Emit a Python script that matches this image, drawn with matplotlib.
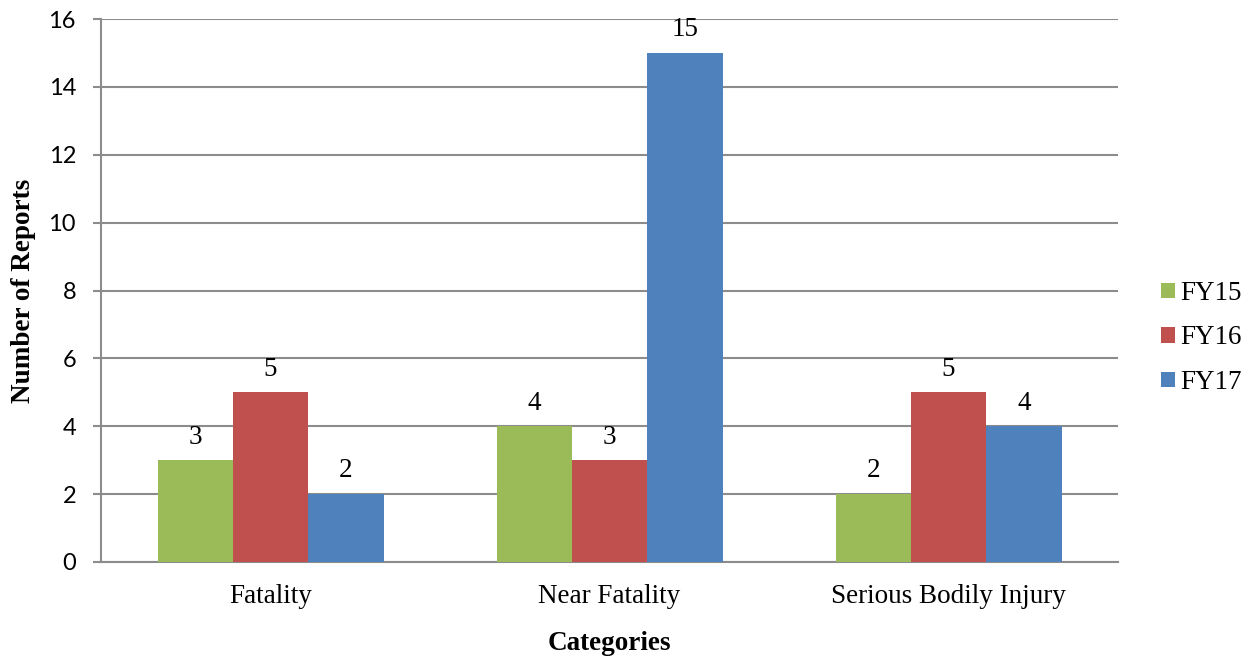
import matplotlib.pyplot as plt
import numpy as np

categories = ["Fatality", "Near Fatality", "Serious Bodily Injury"]
years = ["FY15", "FY16", "FY17"]
fy15 = [3, 4, 2]
fy16 = [5, 3, 5]
fy17 = [2, 15, 4]
y_ticks = [0, 2, 4, 6, 8, 10, 12, 14, 16]

colors = ["#9BBB59", "#C0504D", "#4F81BD"]
serif = "Liberation Serif"
grid_col = "#8C8C8C"
fs = 19.5

fig = plt.figure(figsize=(12.48, 6.56), dpi=100)
ax = fig.add_axes([101 / 1248, 1 - 562 / 656, 1017 / 1248, 543 / 656])

x = np.arange(len(categories))
w = 1 / 4.5
for i, (vals, name) in enumerate(zip([fy15, fy16, fy17], years)):
    pos = x + (i - 1) * w
    bars = ax.bar(pos, vals, width=w, color=colors[i], label=name, zorder=3)
    for b, v in zip(bars, vals):
        ax.annotate(str(v), (b.get_x() + b.get_width() / 2, v),
                    xytext=(0, 12), textcoords="offset points",
                    ha="center", va="baseline", fontsize=fs,
                    family=serif, color="black")

ax.set_xlim(-0.5, 2.5)
ax.set_ylim(0, 16)
ax.set_yticks(y_ticks)
ax.set_xticks(x)
ax.set_xticklabels(categories, family=serif, fontsize=fs)
ax.tick_params(axis="x", length=0, pad=16)
ax.tick_params(axis="y", length=6, color=grid_col, width=1.5, pad=12, labelsize=17)
for lbl in ax.get_yticklabels():
    lbl.set_family("Lato")

ax.yaxis.grid(True, color=grid_col, linewidth=1.5, zorder=0)
ax.set_axisbelow(True)
for s in ["top", "right"]:
    ax.spines[s].set_visible(False)
for s in ["left", "bottom"]:
    ax.spines[s].set_color(grid_col)
    ax.spines[s].set_linewidth(1.5)

ax.set_ylabel("Number of Reports", family=serif, fontsize=fs,
              fontweight="bold", labelpad=9)
ax.set_xlabel("Categories", family=serif, fontsize=fs,
              fontweight="bold", labelpad=16)

fig.legend(*ax.get_legend_handles_labels(), loc="center left",
           bbox_to_anchor=(1161 / 1248, 1 - 338 / 656), frameon=False,
           prop={"family": serif, "size": fs}, handlelength=0.52,
           handleheight=0.52, handletextpad=0.2, labelspacing=0.72,
           borderpad=0, borderaxespad=0)

fig.savefig("out.png", dpi=100)
